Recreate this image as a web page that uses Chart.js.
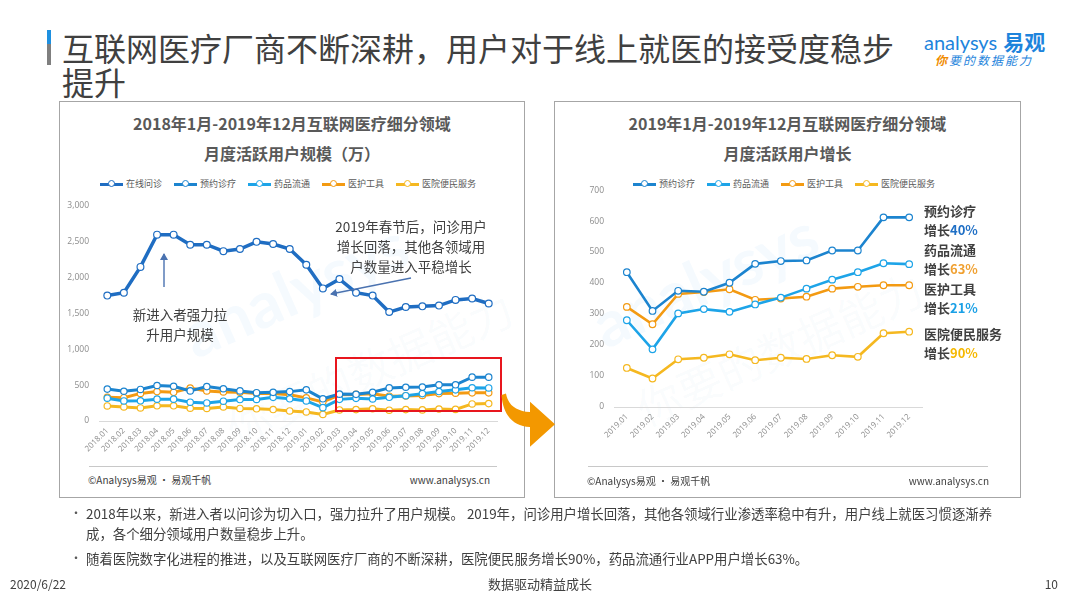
<!DOCTYPE html>
<html><head><meta charset="utf-8">
<script src="https://cdn.jsdelivr.net/npm/chart.js@4.4.1/dist/chart.umd.min.js"></script>
<style>
html,body{margin:0;padding:0;}
body{width:1080px;height:608px;position:relative;background:#fff;font-family:"Noto Sans CJK SC","Noto Sans",sans-serif;overflow:hidden;color:#404040}
.abs{position:absolute;white-space:nowrap}
.box{position:absolute;border:1px solid #a6a6a6;box-sizing:border-box}
.ctitle{position:absolute;font-weight:bold;font-size:16px;color:#595959;text-align:center;line-height:30px}
.legend{position:absolute;display:flex;align-items:center;font-size:9px;color:#595959;line-height:12px}
.legend .it{display:flex;align-items:center;margin-right:12px}
.legend .ln{position:relative;width:23px;height:3px;margin-right:3px}
.legend .dot{position:absolute;left:8px;top:-2.5px;width:5px;height:5px;border-radius:50%;background:#fff;border:1.2px solid;box-sizing:content-box}
.foot{position:absolute;font-size:10px;color:#404040;line-height:14px}
.hline{position:absolute;height:1px;background:#c8c8c8}
.ann{position:absolute;font-size:13.5px;line-height:20px;color:#404040;text-align:center;white-space:nowrap}
.rl{position:absolute;left:924px;font-size:13px;font-weight:bold;line-height:18px;color:#404040;white-space:nowrap}
.wm{position:absolute;white-space:nowrap;pointer-events:none}
canvas{position:absolute}
</style></head><body>

<!-- title -->
<div class="abs" style="left:47px;top:30px;width:4px;height:14px;background:#1e90e0"></div>
<div class="abs" style="left:47px;top:44px;width:4px;height:21px;background:#7f7f7f"></div>
<div class="abs" style="left:62px;top:30px;font-size:32px;line-height:34px;color:#404040">互联网医疗厂商不断深耕，用户对于线上就医的接受度稳步<br>提升</div>

<!-- logo -->
<div class="abs" style="left:924px;top:28px;line-height:26px;color:#1e84dc"><span style="font-family:Lato,'Open Sans',sans-serif;font-size:20px">analysys</span><span style="font-size:21px;font-weight:bold;margin-left:6px">易观</span></div>
<div class="abs" style="left:935px;top:51px;font-size:12px;line-height:18px;font-style:italic;color:#1e84dc;letter-spacing:2px"><span style="color:#f08c00;font-weight:bold">你</span>要的数据能力</div>

<!-- boxes -->
<div class="box" style="left:59px;top:101px;width:466px;height:397px"></div>
<div class="box" style="left:554px;top:101px;width:467px;height:397px"></div>

<!-- watermarks -->
<div class="wm" style="left:175px;top:250px;font-size:64px;font-family:Lato,sans-serif;font-weight:bold;color:rgba(30,144,224,0.045);transform:rotate(-24deg)">analysys</div>
<div class="wm" style="left:215px;top:335px;font-size:44px;color:rgba(120,160,200,0.045);transform:rotate(-24deg)">你要的数据能力</div>
<div class="wm" style="left:585px;top:240px;font-size:64px;font-family:Lato,sans-serif;font-weight:bold;color:rgba(30,144,224,0.045);transform:rotate(-24deg)">analysys</div>
<div class="wm" style="left:625px;top:315px;font-size:44px;color:rgba(120,160,200,0.045);transform:rotate(-24deg)">你要的数据能力</div>

<!-- chart titles -->
<div class="ctitle" style="left:59px;width:466px;top:108px">2018年1月-2019年12月互联网医疗细分领域<br>月度活跃用户规模（万）</div>
<div class="ctitle" style="left:554px;width:467px;top:108px">2019年1月-2019年12月互联网医疗细分领域<br>月度活跃用户增长</div>

<div id="lg1" class="legend" style="left:100px;top:178px"></div>
<div id="lg2" class="legend" style="left:633px;top:178px"></div>

<canvas id="c1" width="460" height="276" style="left:60px;top:190px;width:460px;height:276px"></canvas>
<canvas id="c2" width="460" height="292" style="left:556px;top:175px;width:460px;height:292px"></canvas>

<!-- footers in boxes -->
<div class="hline" style="left:89px;top:466px;width:408px"></div>
<div class="foot" style="left:88px;top:473px">©Analysys易观 · 易观千帆</div>
<div class="foot" style="left:390px;width:100px;text-align:right;top:473px">www.analysys.cn</div>
<div class="hline" style="left:588px;top:466px;width:400px"></div>
<div class="foot" style="left:587px;top:474px">©Analysys易观 · 易观千帆</div>
<div class="foot" style="left:889px;width:100px;text-align:right;top:474px">www.analysys.cn</div>

<!-- annotations -->
<div class="ann" style="left:331px;width:160px;top:216px">2019年春节后，问诊用户<br>增长回落，其他各领域用<br>户数量进入平稳增长</div>
<div class="ann" style="left:120px;width:120px;top:304px">新进入者强力拉<br>升用户规模</div>
<div class="abs" style="left:335px;top:357px;width:167px;height:55px;border:2px solid #e8161e;box-sizing:border-box"></div>

<svg class="abs" style="left:0;top:0" width="1080" height="608">
  <defs>
    <marker id="ah" markerWidth="8" markerHeight="8" refX="6" refY="4" orient="auto" markerUnits="userSpaceOnUse">
      <path d="M0,0 L7,4 L0,8 Z" fill="#4a72b0"/>
    </marker>
  </defs>
  <line x1="164" y1="287" x2="164" y2="254" stroke="#4a72b0" stroke-width="1.4" marker-end="url(#ah)"/>
  <line x1="411" y1="278" x2="331" y2="294" stroke="#4a72b0" stroke-width="1.4" marker-end="url(#ah)"/>
  <path d="M501.5,395 C503,414 512,426 530,427 L530,446.7 L555,424.3 L530,401.7 L530,412 C516,411 508,405 506,393.5 Z" fill="#f39800"/>
</svg>

<div id="rlabels"></div>

<!-- bullets -->
<div class="abs" style="left:70px;top:503px;font-size:12px;line-height:20px;color:#595959">•</div>
<div class="abs" style="left:86px;top:503px;font-size:13.4px;line-height:20px;color:#404040">2018年以来，新进入者以问诊为切入口，强力拉升了用户规模。 2019年，问诊用户增长回落，其他各领域行业渗透率稳中有升，用户线上就医习惯逐渐养<br>成，各个细分领域用户数量稳步上升。</div>
<div class="abs" style="left:70px;top:548px;font-size:12px;line-height:20px;color:#595959">•</div>
<div class="abs" style="left:86px;top:548px;font-size:13.4px;line-height:20px;color:#404040">随着医院数字化进程的推进，以及互联网医疗厂商的不断深耕，医院便民服务增长90%，药品流通行业APP用户增长63%。</div>

<div class="abs" style="left:10px;top:576px;font-size:12px;line-height:16px;color:#404040">2020/6/22</div>
<div class="abs" style="left:440px;width:200px;text-align:center;top:576px;font-size:13px;line-height:16px;color:#404040">数据驱动精益成长</div>
<div class="abs" style="left:1030px;width:28px;text-align:right;top:576px;font-size:12px;line-height:16px;color:#404040">10</div>

<script>
// ---------- data ----------
const leftLabels = ['2018.01','2018.02','2018.03','2018.04','2018.05','2018.06','2018.07','2018.08','2018.09','2018.10','2018.11','2018.12',
                    '2019.01','2019.02','2019.03','2019.04','2019.05','2019.06','2019.07','2019.08','2019.09','2019.10','2019.11','2019.12'];
const rightLabels = ['2019.01','2019.02','2019.03','2019.04','2019.05','2019.06','2019.07','2019.08','2019.09','2019.10','2019.11','2019.12'];
const seriesNames = ['在线问诊','预约诊疗','药品流通','医护工具','医院便民服务'];
const seriesColors = ['#1f6dc2','#1c84cf','#1da4e8','#f39a12','#f5b820'];

const onlineConsult = [1750,1790,2150,2600,2600,2460,2460,2370,2400,2500,2470,2400, 2180,1850,1980,1790,1750,1520,1590,1600,1610,1690,1710,1640];
const appointment   = [445,415,440,495,485,420,480,450,420,395,400,410, 435,310,375,372,401,462,471,473,505,505,612,612];
const pharmacy      = [318,280,282,305,305,262,252,276,299,300,330,310, 280,186,302,316,307,331,353,382,411,435,464,461];
const medicalTools  = [330,325,385,410,400,460,420,405,400,385,385,365, 323,267,365,371,380,346,350,356,382,388,393,393];
const hospitalSvc   = [210,196,182,212,212,178,175,196,175,170,160,140, 126,92,154,159,170,151,159,155,167,162,238,243];

const growthNames  = ['预约诊疗','药品流通','医护工具','医院便民服务'];
const growthTexts  = ['40%','63%','21%','90%'];
const growthColors = ['#1f6fc5','#f0a030','#1aa0e6','#f5b800'];

// ---------- legends ----------
function buildLegend(el, idxs){
  idxs.forEach(i=>{
    const it=document.createElement('div'); it.className='it';
    const ln=document.createElement('div'); ln.className='ln'; ln.style.background=seriesColors[i];
    const dot=document.createElement('div'); dot.className='dot'; dot.style.borderColor=seriesColors[i];
    ln.appendChild(dot); it.appendChild(ln);
    const t=document.createElement('span'); t.textContent=seriesNames[i]; it.appendChild(t);
    el.appendChild(it);
  });
}
buildLegend(document.getElementById('lg1'),[0,1,2,3,4]);
buildLegend(document.getElementById('lg2'),[1,2,3,4]);

// right labels
const rlTops = [[202,221],[241,260],[280,299],[325,344]];
const rl=document.getElementById('rlabels');
growthNames.forEach((n,i)=>{
  const a=document.createElement('div'); a.className='rl'; a.style.top=rlTops[i][0]+'px'; a.textContent=n; rl.appendChild(a);
  const b=document.createElement('div'); b.className='rl'; b.style.top=rlTops[i][1]+'px';
  b.innerHTML='增长<span style="color:'+growthColors[i]+'">'+growthTexts[i]+'</span>'; rl.appendChild(b);
});

// ---------- charts ----------
Chart.defaults.font.family = "'Open Sans','Noto Sans CJK SC',sans-serif";
Chart.defaults.color = '#8c8c8c';

function ds(i, data, width, r){
  return {label:seriesNames[i], data:data, borderColor:seriesColors[i], backgroundColor:'#ffffff',
    borderWidth:width, pointRadius:r, pointBorderWidth:1.2, pointBackgroundColor:'#ffffff',
    pointBorderColor:seriesColors[i], tension:0, fill:false};
}
function opts(yMax, step, pad, yW, xH, comma){
  return {
    responsive:false, animation:false,
    layout:{padding:pad},
    plugins:{legend:{display:false}, tooltip:{enabled:false}},
    scales:{
      x:{offset:true, grid:{display:false, drawTicks:false}, border:{display:true, color:'#d9d9d9', width:1},
         ticks:{font:{size:8}, color:'#8c8c8c', maxRotation:45, minRotation:45, autoSkip:false, padding:5},
         afterFit:function(s){ s.height = xH; }},
      y:{min:0, max:yMax, grid:{display:false, drawTicks:false}, border:{display:false},
         ticks:{stepSize:step, font:{size:8.5}, color:'#8c8c8c', padding:10,
                callback:function(v){ return comma ? Number(v).toLocaleString('en-US') : v; }},
         afterFit:function(s){ s.width = yW; }}
    }
  };
}

new Chart(document.getElementById('c1'), {
  type:'line',
  data:{labels:leftLabels, datasets:[
    ds(0, onlineConsult, 3.5, 3.4),
    ds(1, appointment, 3, 3.2),
    ds(2, pharmacy, 3, 3.2),
    ds(3, medicalTools, 3, 3.2),
    ds(4, hospitalSvc, 3, 3.2)
  ]},
  options:opts(3000, 500, {top:16,left:0,right:23,bottom:0}, 39, 45, true)
});

new Chart(document.getElementById('c2'), {
  type:'line',
  data:{labels:rightLabels, datasets:[
    ds(1, appointment.slice(12), 2.6, 3.3),
    ds(2, pharmacy.slice(12), 2.6, 3.3),
    ds(3, medicalTools.slice(12), 2.6, 3.3),
    ds(4, hospitalSvc.slice(12), 2.6, 3.3)
  ]},
  options:opts(700, 100, {top:12,left:0,right:94,bottom:0}, 58, 60, false)
});
</script>
</body></html>
